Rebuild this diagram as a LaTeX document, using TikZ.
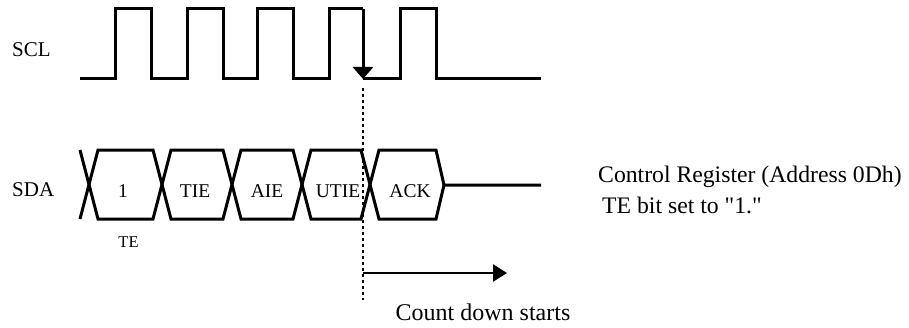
\documentclass[tikz,border=0pt]{standalone}
\usepackage{fontspec}
\setmainfont{Liberation Serif}[Ligatures=TeXOff]
\usetikzlibrary{arrows.meta}
\begin{document}
\begin{tikzpicture}[x=1pt,y=1pt,
  wave/.style={line width=3pt},
  sigtxt/.style={inner sep=0pt,font=\fontsize{21}{24}\selectfont},
  bittxt/.style={inner sep=0pt,anchor=base,font=\fontsize{19.5}{22}\selectfont},
  smalltxt/.style={inner sep=0pt,anchor=base,font=\fontsize{16.5}{19}\selectfont},
  notetxt/.style={inner sep=0pt,font=\fontsize{23.7}{27}\selectfont},
  marker/.style={line width=1.4pt,dash pattern=on 3pt off 3pt}]
\useasboundingbox (0,0) rectangle (909,327);
% labels
\node[sigtxt,anchor=base west] (scl) at (12,270) {SCL};
\node[sigtxt,anchor=base west] (sda) at (12,131) {SDA};
% SCL waveform
\draw[wave] (80,248) -- (115,248) -- (115,318) -- (151,318) -- (151,248) -- (187,248) -- (187,318) -- (223,318) -- (223,248) -- (257,248) -- (257,318) -- (293,318) -- (293,248) -- (329,248) -- (329,318) -- (363,318);
\coordinate (fallTop) at (363,318);
\coordinate (fallBot) at (363,248);
\draw[wave,-{Triangle[width=20pt,length=12pt]}] (fallTop) -- (fallBot);
\draw[wave] (363,248) -- (400,248) -- (400,318) -- (436,318) -- (436,248) -- (541,248);
% SDA waveform
\draw[wave] (80,177) -- (98,108) -- (153,108) -- (171,177) -- (223,177) -- (241,108) -- (293,108) -- (311,177) -- (361,177) -- (379,108) -- (436,108) -- (444,142) -- (541,142);
\draw[wave] (80,108) -- (98,177) -- (153,177) -- (171,108) -- (223,108) -- (241,177) -- (293,177) -- (311,108) -- (361,108) -- (379,177) -- (436,177) -- (444,142);
% bit labels
\node[bittxt] (b1) at (123,130) {1};
\node[bittxt] (b2) at (195,130) {TIE};
\node[bittxt] (b3) at (267,130) {AIE};
\node[bittxt] (b4) at (338,130) {UTIE};
\node[bittxt] (b5) at (410,130) {ACK};
\node[smalltxt] (te) at (128.5,80) {TE};
% marker line
\coordinate (mTop) at (363,239);
\coordinate (mBot) at (363,27);
\draw[marker] (mTop) -- (mBot);
\coordinate (cStart) at (363,54);
\coordinate (cEnd) at (507,54);
\draw[line width=2.6pt,-{Triangle[width=17pt,length=14pt]}] (cStart) -- (cEnd);
% notes
\node[notetxt,anchor=base west] (n1) at (598,145) {Control Register (Address 0Dh)};
\node[notetxt,anchor=base west] (n2) at (602,114) {TE bit set to "1."};
\node[notetxt,anchor=base,font=\fontsize{24}{28}\selectfont] (cd) at (483,7) {Count down starts};
\end{tikzpicture}
\end{document}
